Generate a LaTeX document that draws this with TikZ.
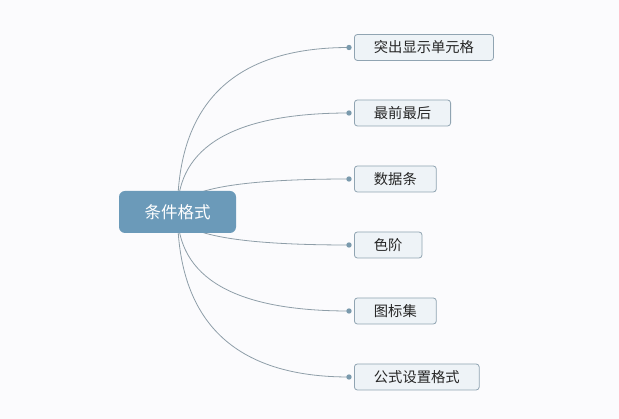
\documentclass[tikz,border=0pt]{standalone}
\usepackage{fontspec}
\usetikzlibrary{calc}
\newfontfamily\cjk{Noto Sans CJK SC}
\definecolor{bgc}{HTML}{FBFBFD}
\definecolor{rootc}{HTML}{6B9AB9}
\definecolor{leaff}{HTML}{EEF3F7}
\definecolor{leafd}{HTML}{90A4B2}
\definecolor{linkc}{HTML}{8E9EA8}
\definecolor{dotc}{HTML}{7A9AAD}
\pgfdeclarelayer{bg}
\pgfdeclarelayer{canvas}
\pgfsetlayers{canvas,bg,main}
\tikzset{
  root/.style={fill=rootc, rounded corners=6pt, minimum width=117pt, minimum height=42pt,
    text=white, font=\cjk\fontsize{16.5}{18}\selectfont, inner sep=0pt},
  leaf/.style={anchor=west, draw=leafd, fill=leaff, line width=0.8pt, rounded corners=3pt,
    minimum height=26pt, inner xsep=19.5pt, inner ysep=0pt, text=black!85,
    font=\cjk\fontsize{14.3}{16}\selectfont},
  link/.style={draw=linkc, line width=0.8pt},
  dotmark/.style={fill=dotc}
}
\begin{document}
\begin{tikzpicture}[x=1pt,y=-1pt]
\useasboundingbox (0,0) rectangle (619,419);
\begin{pgfonlayer}{canvas}
\fill[bgc] (0,0) rectangle (619,419);
\end{pgfonlayer}
\node[root] (root) at (177.5,212) {条件格式};
\foreach \i/\y/\t in {1/47.5/突出显示单元格, 2/113/最前最后, 3/179/数据条, 4/245/色阶, 5/311/图标集, 6/377/公式设置格式}{
  \node[leaf] (c\i) at (354,\y) {\t};
  \coordinate (d\i) at (349,\y);
  \coordinate (q\i) at (root.center |- d\i);
  \begin{pgfonlayer}{bg}
    \draw[link] (root.center) .. controls ($(root.center)!2/3!(q\i)$) and ($(d\i)!2/3!(q\i)$) .. (d\i);
  \end{pgfonlayer}
  \fill[dotmark] (d\i) circle (2.7pt);
}
\end{tikzpicture}
\end{document}
